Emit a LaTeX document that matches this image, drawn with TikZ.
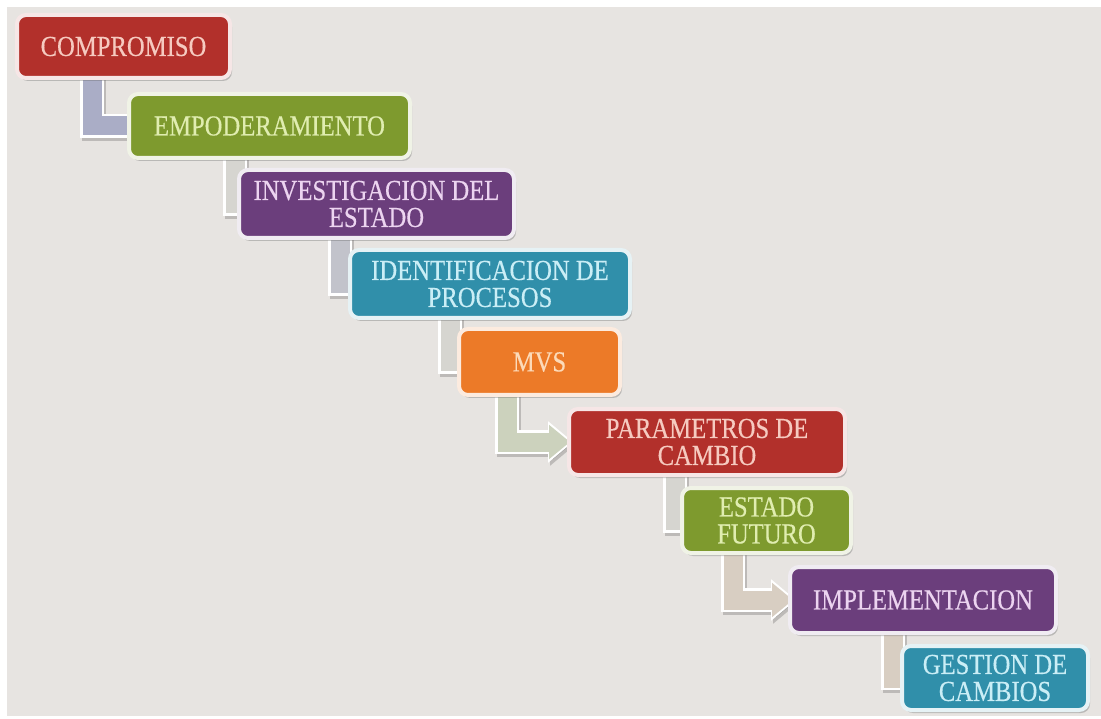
\documentclass[tikz,border=0pt]{standalone}
\usepackage{fontspec}
\setmainfont{Liberation Serif}[FakeStretch=0.85, FakeBold=0.4]
\usepackage{tikz}
\usetikzlibrary{positioning, arrows.meta, calc, shadows, backgrounds}
\definecolor{paper}{RGB}{231,228,225}
\definecolor{boxred}{RGB}{178,48,43}
\definecolor{boxgreen}{RGB}{126,154,46}
\definecolor{boxpurple}{RGB}{107,62,124}
\definecolor{boxteal}{RGB}{48,143,170}
\definecolor{boxorange}{RGB}{236,122,40}
\definecolor{txtred}{RGB}{246,202,192}
\definecolor{txtgreen}{RGB}{224,237,176}
\definecolor{txtpurple}{RGB}{236,212,240}
\definecolor{txtteal}{RGB}{202,238,246}
\definecolor{txtorange}{RGB}{252,218,185}
\definecolor{linklav}{RGB}{170,173,198}
\definecolor{linkgrey}{RGB}{214,213,208}
\definecolor{linksage}{RGB}{204,210,189}
\definecolor{linkbeige}{RGB}{216,206,194}

\begin{document}
\begin{tikzpicture}[
  x=1pt, y=-1pt,
  font=\fontsize{29}{27}\selectfont,
  stage/.style={rectangle, rounded corners=9pt, line width=4pt, align=center,
                inner sep=0pt,
                drop shadow={shadow xshift=2pt, shadow yshift=-3pt,
                             opacity=.35, fill=black!60}},
  redstage/.style={stage, fill=boxred, draw=boxred!12!white, text=txtred},
  greenstage/.style={stage, fill=boxgreen, draw=boxgreen!12!white, text=txtgreen},
  purplestage/.style={stage, fill=boxpurple, draw=boxpurple!10!white, text=txtpurple},
  tealstage/.style={stage, fill=boxteal, draw=boxteal!12!white, text=txtteal},
  orangestage/.style={stage, fill=boxorange, draw=boxorange!15!white, text=txtorange},
]
\useasboundingbox (0,0) rectangle (1101,719);

% steps, top left to bottom right
\node[redstage, minimum width=213, minimum height=63] (compromiso) at (123.5,46.5)
  {COMPROMISO};
\node[greenstage, minimum width=281, minimum height=64] (empoder) at (269.5,126)
  {EMPODERAMIENTO};
\node[purplestage, minimum width=275, minimum height=68] (investig) at (376.5,204)
  {INVESTIGACION DEL\\ESTADO};
\node[tealstage, minimum width=280, minimum height=68] (identif) at (490,284)
  {IDENTIFICACION DE\\PROCESOS};
\node[orangestage, minimum width=161, minimum height=66] (mvs) at (539.5,362)
  {MVS};
\node[redstage, minimum width=276, minimum height=66] (param) at (707,442)
  {PARAMETROS DE\\CAMBIO};
\node[greenstage, minimum width=169, minimum height=65] (futuro) at (766.5,520.5)
  {ESTADO\\FUTURO};
\node[purplestage, minimum width=266, minimum height=66] (implem) at (923,600)
  {IMPLEMENTACION};
\node[tealstage, minimum width=186, minimum height=64] (gestion) at (995,678)
  {GESTION DE\\CAMBIOS};

\begin{scope}[on background layer]
  \fill[paper] (7,7) rectangle (1101,716);
  % bent arrows between the steps
  \foreach \a/\b/\dx/\tip/\tint in {compromiso/empoder/77/40/linklav,
                                    empoder/investig/108/40/linkgrey,
                                    investig/identif/103/40/linklav!45!linkgrey,
                                    identif/mvs/102/40/linkgrey,
                                    mvs/param/50/3/linksage,
                                    param/futuro/108/40/linkgrey,
                                    futuro/implem/53/5/linkbeige,
                                    implem/gestion/105/40/linkbeige}{
    \draw[line width=24pt, draw=black, opacity=.18,
          transform canvas={shift={(2pt,-3pt)}},
          -{Triangle[length=25pt, width=40pt]}]
      ($(\a.south west)+(\dx,-12)$) |- ($(\b.west)+(\tip+3,0)$);
    \draw[line width=24pt, draw=white, -{Triangle[length=25pt, width=40pt]}]
      ($(\a.south west)+(\dx,-12)$) |- ($(\b.west)+(\tip+3,0)$);
    \draw[line width=19pt, draw=\tint, -{Triangle[length=21pt, width=33pt]}]
      ($(\a.south west)+(\dx,-12)$) |- ($(\b.west)+(\tip,0)$);
  }
\end{scope}
\end{tikzpicture}
\end{document}
